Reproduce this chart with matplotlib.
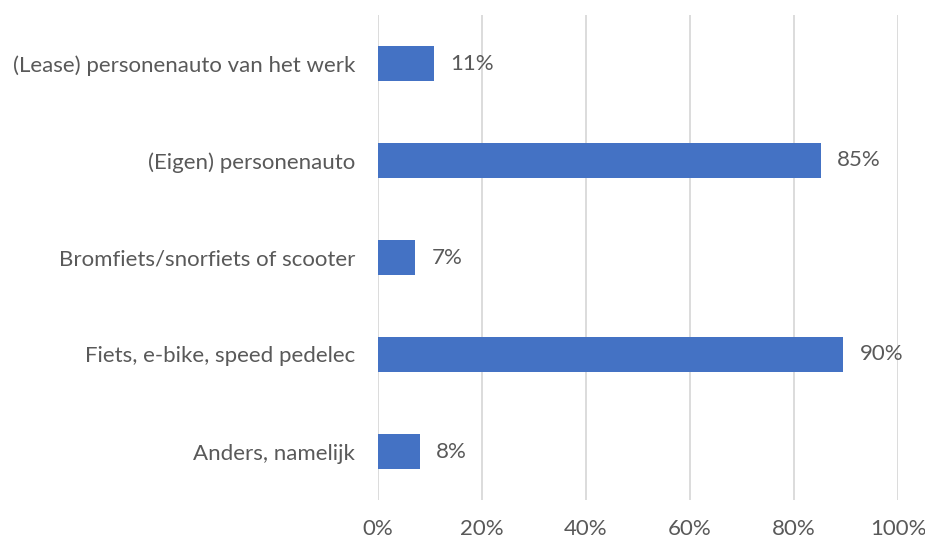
import matplotlib
matplotlib.use("Agg")
import matplotlib.pyplot as plt
from matplotlib.ticker import FuncFormatter

categories = [
    "(Lease) personenauto van het werk",
    "(Eigen) personenauto",
    "Bromfiets/snorfiets of scooter",
    "Fiets, e-bike, speed pedelec",
    "Anders, namelijk",
]
values = [10.8, 85.2, 7.2, 89.5, 8.1]
labels = ["11%", "85%", "7%", "90%", "8%"]
xticks = [0, 20, 40, 60, 80, 100]

plt.rcParams['font.family'] = ['Lato', 'DejaVu Sans']
TXT = '#595959'
FS = 16

fig = plt.figure(figsize=(9.25, 5.41), dpi=100)
ax = fig.add_axes([378/925, 1-500/541, (898-378)/925, (500-15)/541])

ypos = list(range(len(categories)))[::-1]
ax.barh(ypos, values, height=0.36, color='#4472C4', zorder=3)
for y, v, l in zip(ypos, values, labels):
    ax.annotate(l, (v, y), xytext=(16, 0), textcoords='offset pixels',
                ha='left', va='center', fontsize=FS, color=TXT, zorder=4)

ax.set_xlim(0, 100)
ax.set_ylim(-0.5, 4.5)
ax.set_xticks(xticks)
ax.xaxis.set_major_formatter(FuncFormatter(lambda v, p: f"{v:.0f}%"))
ax.set_yticks(ypos)
ax.set_yticklabels(categories)
ax.tick_params(axis='both', length=0, labelsize=FS, colors=TXT)
ax.tick_params(axis='y', pad=16.5)
ax.tick_params(axis='x', pad=14)
ax.grid(axis='x', color='#D9D9D9', linewidth=1.3, zorder=0)
for s in ax.spines.values():
    s.set_visible(False)

fig.savefig('out.png', dpi=100)
